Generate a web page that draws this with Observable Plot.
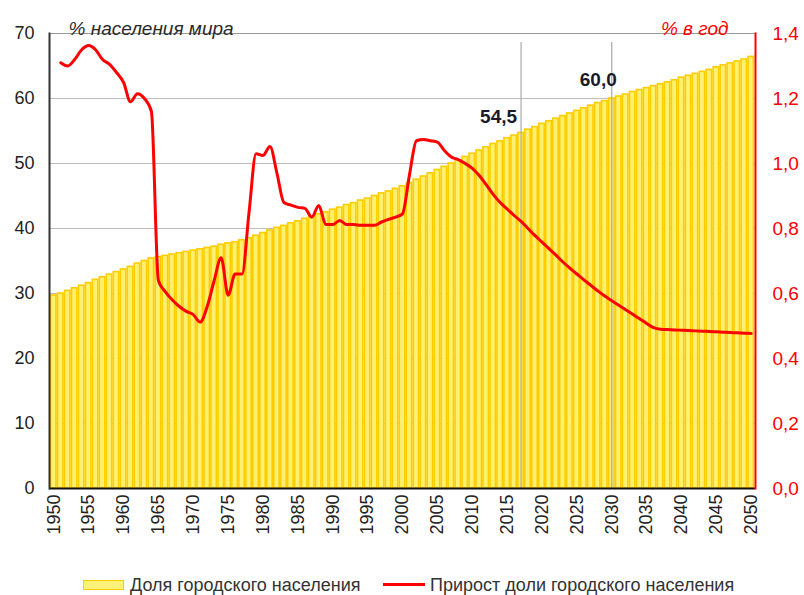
<!DOCTYPE html>
<html><head><meta charset="utf-8">
<script src="https://cdn.jsdelivr.net/npm/d3@7"></script>
<script src="https://cdn.jsdelivr.net/npm/@observablehq/plot@0.6"></script>
<style>
body{margin:0;background:#fff;font-family:"Liberation Sans",Arial,sans-serif;}
#wrap{position:relative;width:804px;height:595px;overflow:hidden;}
#legend{position:absolute;left:0;top:575px;width:804px;height:22px;font-size:18px;color:#333;}
.sw{position:absolute;}
.lt{position:absolute;top:0;line-height:20px;white-space:nowrap;}
</style></head><body>
<div id="wrap"><div id="chart"></div>
<div id="legend">
  <div class="sw" style="left:83px;top:5px;width:39px;height:8px;background:#FFF27A;border:1px solid #FFCC00;"></div>
  <div class="lt" style="left:130px;">Доля городского населения</div>
  <div class="sw" style="left:383px;top:8px;width:42px;height:3px;background:#ff0000;"></div>
  <div class="lt" style="left:430px;">Прирост доли городского населения</div>
</div></div>
<script>
const years = d3.range(1950, 2051);
const share = [
  29.7, 30.0, 30.4, 30.8, 31.2, 31.6, 32.1, 32.5, 32.9, 33.3,
  33.7, 34.1, 34.6, 35.0, 35.4, 35.6, 35.8, 36.0, 36.2, 36.4,
  36.6, 36.8, 37.0, 37.2, 37.5, 37.7, 37.9, 38.2, 38.5, 38.9,
  39.3, 39.7, 40.1, 40.4, 40.8, 41.1, 41.5, 41.8, 42.2, 42.5,
  42.9, 43.2, 43.6, 43.9, 44.3, 44.6, 45.0, 45.4, 45.7, 46.1,
  46.5, 47.0, 47.5, 48.0, 48.5, 49.0, 49.5, 50.0, 50.5, 51.0,
  51.5, 52.0, 52.5, 53.0, 53.4, 53.9, 54.3, 54.7, 55.2, 55.6,
  56.1, 56.5, 56.9, 57.3, 57.7, 58.1, 58.5, 58.9, 59.3, 59.6,
  60.0, 60.3, 60.6, 61.0, 61.3, 61.6, 61.9, 62.2, 62.5, 62.8,
  63.2, 63.5, 63.8, 64.1, 64.4, 64.8, 65.1, 65.4, 65.7, 66.0,
  66.4
];
const rateYears = d3.range(1951, 2051);
const rate = [
  1.31, 1.30, 1.32, 1.35, 1.363, 1.35, 1.32, 1.305, 1.28,
  1.25, 1.19, 1.215, 1.20, 1.16, 0.64, 0.605, 0.58, 0.56, 0.545,
  0.535, 0.512, 0.56, 0.64, 0.71, 0.595, 0.66, 0.66, 0.85, 1.03,
  1.025, 1.052, 0.97, 0.88, 0.872, 0.865, 0.862, 0.835, 0.871, 0.812,
  0.812, 0.825, 0.812, 0.812, 0.81, 0.81, 0.81, 0.82, 0.828, 0.835,
  0.845, 0.965, 1.07, 1.074, 1.07, 1.066, 1.04, 1.02, 1.012, 1.0,
  0.985, 0.963, 0.935, 0.905, 0.88, 0.86, 0.84, 0.822, 0.80, 0.778,
  0.758, 0.738, 0.718, 0.697, 0.678, 0.66, 0.642, 0.625, 0.608, 0.592,
  0.578, 0.564, 0.55, 0.536, 0.522, 0.508, 0.495, 0.49, 0.489, 0.488,
  0.487, 0.486, 0.485, 0.484, 0.483, 0.482, 0.481, 0.48, 0.479, 0.478,
  0.477
];
const leftTicks = [0, 10, 20, 30, 40, 50, 60, 70];
const rightTickLabels = ["0,0", "0,2", "0,4", "0,6", "0,8", "1,0", "1,2", "1,4"];
const gridValues = [10, 20, 30, 40, 50, 60];
const markYears = [2017, 2030];
const markLabels = ["54,5", "60,0"];
const yearLabels = years.filter(y => y % 5 === 0);

const bars = years.map((y, i) => ({year: y, share: share[i]}));
const line = rateYears.map((y, i) => ({year: y, rate: rate[i]}));
const k = 70 / 1.4;

const chart = Plot.plot({
  width: 804, height: 545,
  marginLeft: 49, marginRight: 49, marginTop: 33, marginBottom: 57,
  style: {fontFamily: "'Liberation Sans', Arial, sans-serif", background: "#fff", overflow: "visible"},
  x: {type: "band", domain: years, padding: 0.22, axis: null},
  y: {domain: [0, 70], axis: null},
  marks: [
    Plot.ruleY(gridValues, {stroke: "#bdbdbd", strokeWidth: 1}),
    Plot.barY(bars, {x: "year", y: "share", fill: "#FFF170", stroke: "#FFCC00", strokeWidth: 1.6}),
    Plot.ruleX(markYears, {x: d => d, y1: 0, y2: 68.6, stroke: "#a9a9a9", strokeWidth: 1.2}),
    Plot.ruleY([70], {stroke: "#999", strokeWidth: 1.2}),
    Plot.line(line, {x: "year", y: d => d.rate * k, stroke: "#ff0000", strokeWidth: 3, curve: "monotone-x"}),
    Plot.text([markLabels[0]], {x: [markYears[0]], y: [57.2], textAnchor: "end", dx: -4, fontWeight: "bold", fontSize: 19, fill: "#1a1a2a"}),
    Plot.text([markLabels[1]], {x: [markYears[1]], y: [62.9], textAnchor: "end", dx: 5, fontWeight: "bold", fontSize: 19, fill: "#1a1a2a"}),
    Plot.ruleY([0], {stroke: "#111", strokeWidth: 2}),
    Plot.frame({anchor: "left", stroke: "#333", strokeWidth: 2}),
    Plot.frame({anchor: "right", stroke: "#ff0000", strokeWidth: 2}),
    Plot.axisX({ticks: yearLabels, tickFormat: d => String(d), tickRotate: -90, tickSize: 0, tickPadding: 6, fontSize: 18, fill: "#222", label: null}),
    Plot.axisY({anchor: "left", ticks: leftTicks, tickSize: 0, tickPadding: 15, fontSize: 18, fill: "#222", label: null}),
    Plot.axisY({anchor: "right", ticks: leftTicks, tickFormat: d => rightTickLabels[leftTicks.indexOf(d)], tickSize: 0, tickPadding: 17, fontSize: 19, fill: "#ff0000", label: null}),
    Plot.text(["% населения мира"], {frameAnchor: "top-left", dx: 19, dy: -12, textAnchor: "start", fontStyle: "italic", fontSize: 19, fill: "#2a2a2a"}),
    Plot.text(["% в год"], {frameAnchor: "top-right", dx: -27, dy: -12, textAnchor: "end", fontStyle: "italic", fontSize: 19, fill: "#ff0000"})
  ]
});
document.getElementById("chart").appendChild(chart);
</script>
</body></html>
